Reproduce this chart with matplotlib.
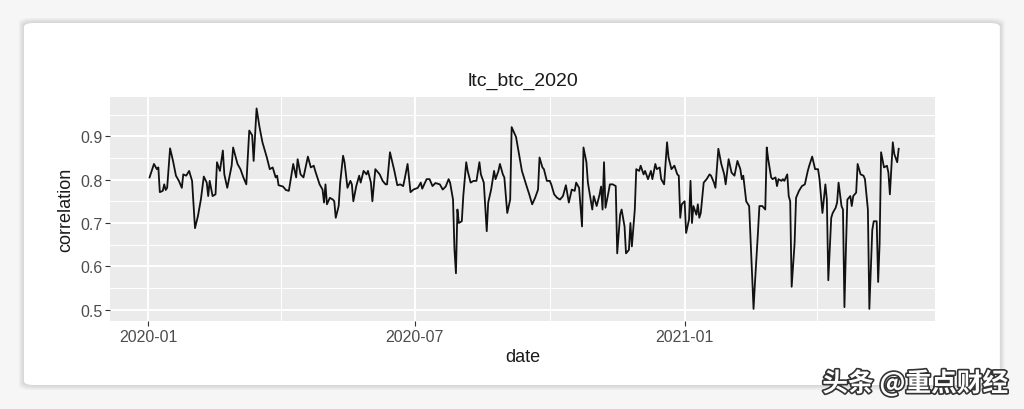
import matplotlib
matplotlib.use("Agg")
import matplotlib.pyplot as plt
import matplotlib.dates as mdates
import matplotlib.patheffects as pe
from matplotlib.patches import FancyBboxPatch
import numpy as np

# days since 2020-01-01 and rolling correlation
day = [1, 4, 6, 7, 8, 10, 11, 12, 13, 15, 17, 19, 21, 23, 24, 26, 28, 30, 32, 34,
       36, 38, 40, 41, 42, 44, 46, 47, 49, 51, 52, 54, 57, 58, 61, 63, 65, 67, 69, 71,
       72, 74, 76, 78, 81, 83,
       85, 87, 88, 89, 92, 94, 96, 99, 101, 102, 104, 106, 109, 111, 113, 114, 117, 119, 120, 121,
       122, 124, 126, 127, 128, 130, 131, 133, 134, 136, 138, 139, 140, 142, 144, 145, 147, 149, 150, 152,
       153, 155, 158, 160, 162, 163, 165,
       168, 170, 172, 174, 175, 177, 179, 181, 184, 186, 187, 190, 192, 194, 196, 199, 201, 203, 205, 206,
       208, 209, 210, 211, 212, 214, 215, 217, 218, 220, 222, 224, 226, 227, 229, 231, 232, 234, 236, 237,
       239, 240, 242, 243, 245, 247, 248,
       251, 253, 255, 258, 260, 262, 264, 266, 267, 269, 270, 272, 274, 275, 277, 279, 281, 283, 285, 287,
       289, 291, 292, 294, 296, 297, 299, 300, 303, 304, 306, 308, 309, 310, 311, 312, 314, 315, 317, 319,
       320, 322, 323, 325, 326, 328, 329, 330, 332, 333, 335,
       336, 338, 339, 341, 343, 344, 346, 347, 349, 350, 352, 354, 355, 357, 359, 361, 362, 363, 364, 366,
       367, 369, 370, 371, 372, 374, 375, 376, 377, 379, 381, 383, 384, 386, 387, 389, 391, 393, 394, 396,
       398, 400, 402, 404, 405, 406, 408, 410, 411, 412, 413, 414, 416, 417, 419, 421,
       422, 423, 425, 426, 428, 429, 430, 432, 433, 434, 436, 437, 438, 439, 441, 442, 444, 446, 448, 450,
       451, 453, 455, 457, 458, 460, 462, 463, 464, 466, 467, 469, 470, 471, 473, 474, 475, 476, 477, 479,
       480, 481, 483, 484, 486, 488, 489, 491, 492, 494, 495, 497, 498, 499, 500, 502, 504, 505, 506, 508,
       509, 511, 512]
correlation = [0.805, 0.836, 0.824, 0.828, 0.771, 0.774, 0.789, 0.776, 0.781, 0.872, 0.843, 0.809, 0.797, 0.781, 0.812, 0.809, 0.820, 0.797, 0.688, 0.716,
               0.754, 0.807, 0.793, 0.762, 0.797, 0.762, 0.766, 0.840, 0.820, 0.867, 0.812, 0.781, 0.832, 0.874, 0.836, 0.824, 0.805, 0.789, 0.913, 0.902,
               0.843, 0.964, 0.921, 0.886, 0.851, 0.824,
               0.828, 0.805, 0.809, 0.787, 0.784, 0.776, 0.774, 0.836, 0.805, 0.847, 0.812, 0.805, 0.853, 0.828, 0.832, 0.820, 0.789, 0.777, 0.747, 0.789,
               0.743, 0.758, 0.754, 0.750, 0.712, 0.739, 0.792, 0.855, 0.840, 0.781, 0.797, 0.789, 0.750, 0.785, 0.809, 0.793, 0.820, 0.812, 0.820, 0.793,
               0.750, 0.824, 0.812, 0.797, 0.789, 0.789, 0.863,
               0.820, 0.787, 0.789, 0.785, 0.801, 0.836, 0.771, 0.777, 0.781, 0.793, 0.779, 0.801, 0.801, 0.785, 0.792, 0.789, 0.777, 0.784, 0.801, 0.793,
               0.754, 0.638, 0.584, 0.731, 0.700, 0.704, 0.762, 0.840, 0.820, 0.793, 0.797, 0.797, 0.840, 0.812, 0.793, 0.681, 0.747, 0.777, 0.820, 0.801,
               0.820, 0.836, 0.812, 0.805, 0.723, 0.754, 0.921,
               0.898, 0.859, 0.820, 0.787, 0.766, 0.743, 0.758, 0.777, 0.851, 0.828, 0.824, 0.797, 0.797, 0.789, 0.766, 0.758, 0.754, 0.762, 0.787, 0.747,
               0.777, 0.774, 0.793, 0.781, 0.692, 0.874, 0.840, 0.793, 0.731, 0.762, 0.739, 0.766, 0.784, 0.731, 0.840, 0.735, 0.770, 0.789, 0.789, 0.785,
               0.630, 0.719, 0.731, 0.692, 0.630, 0.638, 0.700, 0.646, 0.731, 0.824, 0.820,
               0.832, 0.812, 0.820, 0.801, 0.820, 0.801, 0.836, 0.824, 0.828, 0.801, 0.789, 0.886, 0.851, 0.824, 0.832, 0.812, 0.809, 0.712, 0.743, 0.750,
               0.677, 0.708, 0.797, 0.700, 0.739, 0.719, 0.743, 0.712, 0.723, 0.793, 0.801, 0.812, 0.809, 0.793, 0.781, 0.871, 0.836, 0.812, 0.789, 0.847,
               0.816, 0.809, 0.843, 0.824, 0.801, 0.809, 0.750, 0.739, 0.661, 0.584, 0.502, 0.564, 0.677, 0.739, 0.739, 0.731,
               0.874, 0.847, 0.805, 0.801, 0.805, 0.785, 0.801, 0.797, 0.801, 0.797, 0.812, 0.762, 0.750, 0.553, 0.653, 0.758, 0.774, 0.785, 0.789, 0.820,
               0.832, 0.853, 0.824, 0.824, 0.801, 0.723, 0.789, 0.754, 0.568, 0.712, 0.723, 0.735, 0.747, 0.793, 0.739, 0.731, 0.506, 0.638, 0.754, 0.762,
               0.739, 0.762, 0.770, 0.836, 0.812, 0.809, 0.801, 0.731, 0.502, 0.684, 0.704, 0.704, 0.564, 0.653, 0.863, 0.828, 0.832, 0.816, 0.766, 0.886,
               0.859, 0.840, 0.871]

dates = np.datetime64("2020-01-01") + np.array(day, dtype="timedelta64[D]")

plt.rcParams["font.family"] = ["Liberation Sans", "DejaVu Sans"]

fig = plt.figure(figsize=(10.24, 4.1), dpi=100)
fig.patch.set_facecolor("#f6f6f6")

# white card with a soft shadow
for pad, col in [(0.012, "#ededed"), (0.008, "#e2e2e2"), (0.004, "#d8d8d8")]:
    fig.patches.append(FancyBboxPatch((0.0234 - pad / 2.5, 0.0585 - pad), 0.953 + pad / 1.25, 0.883 + pad * 2,
                                      boxstyle="round,pad=0,rounding_size=0.012", transform=fig.transFigure,
                                      facecolor=col, edgecolor="none", zorder=-2))
fig.patches.append(FancyBboxPatch((0.0234, 0.0585), 0.953, 0.883,
                                  boxstyle="round,pad=0,rounding_size=0.01", transform=fig.transFigure,
                                  facecolor="white", edgecolor="none", zorder=-1))

ax = fig.add_axes([0.1074, 0.2146, 0.806, 0.546])
ax.set_zorder(2)
ax.set_facecolor("#ebebeb")
ax.plot(dates, correlation, color="#111111", lw=1.3, zorder=3)

ax.set_xlim(np.datetime64("2019-12-06"), np.datetime64("2021-06-21"))
ax.set_ylim(0.474, 0.99)
ax.set_yticks([0.5, 0.6, 0.7, 0.8, 0.9])
ax.set_yticks([0.55, 0.65, 0.75, 0.85, 0.95], minor=True)
ax.set_xticks([np.datetime64("2020-01-01"), np.datetime64("2020-07-01"), np.datetime64("2021-01-01")])
ax.set_xticks([np.datetime64("2020-04-01"), np.datetime64("2020-10-01"), np.datetime64("2021-04-01")], minor=True)
ax.xaxis.set_major_formatter(mdates.DateFormatter("%Y-%m"))

ax.grid(which="major", color="white", lw=1.4)
ax.grid(which="minor", color="white", lw=0.7)
ax.set_axisbelow(True)
for s in ax.spines.values():
    s.set_visible(False)
ax.tick_params(which="major", length=3.5, width=0.8, color="#333333", labelcolor="#4d4d4d", labelsize=11.5, pad=2)
ax.tick_params(which="minor", length=0)

ax.set_title("ltc_btc_2020", fontsize=14, color="#1a1a1a", pad=9)
ax.set_xlabel("date", fontsize=13, color="#1a1a1a", labelpad=3)
ax.set_ylabel("correlation", fontsize=13, color="#1a1a1a", labelpad=4)

fig.text(0.803, 0.062, "头条 @重点财经", fontsize=18.5, weight="bold", color="white",
         family=["Noto Sans CJK SC", "DejaVu Sans"], va="center", ha="left", zorder=5,
         path_effects=[pe.withStroke(linewidth=2.4, foreground="#333333")])

fig.savefig("out.png", dpi=100, facecolor=fig.get_facecolor())
